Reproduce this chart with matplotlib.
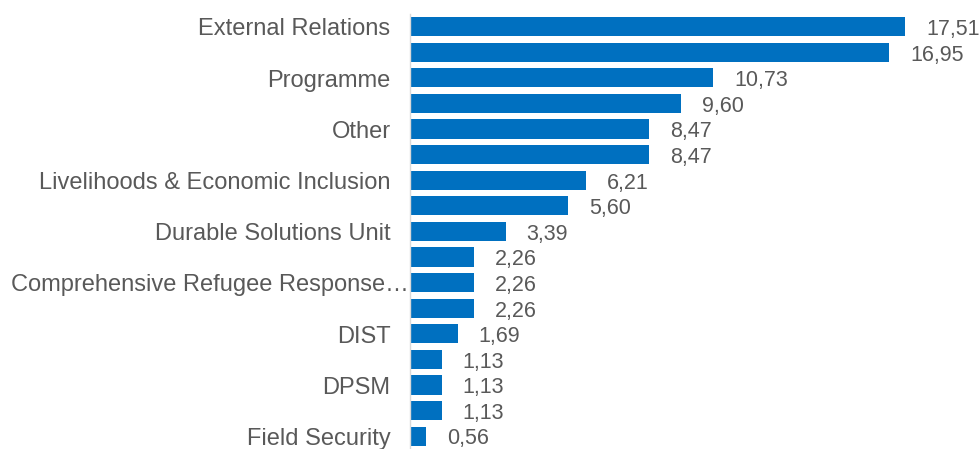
import matplotlib
matplotlib.use('Agg')
import matplotlib.pyplot as plt
from matplotlib.transforms import ScaledTranslation

plt.rcParams['font.family'] = ['Liberation Sans', 'DejaVu Sans']

# categories (only every other one is labelled on the axis)
categories = ['External Relations', '', 'Programme', '', 'Other', '',
              'Livelihoods & Economic Inclusion', '', 'Durable Solutions Unit', '',
              'Comprehensive Refugee Response…', '', 'DIST', '', 'DPSM', '',
              'Field Security']
values = [17.51, 16.95, 10.73, 9.60, 8.47, 8.47, 6.21, 5.60, 3.39,
          2.26, 2.26, 2.26, 1.69, 1.13, 1.13, 1.13, 0.56]
value_labels = ['17,51', '16,95', '10,73', '9,60', '8,47', '8,47', '6,21', '5,60', '3,39',
                '2,26', '2,26', '2,26', '1,69', '1,13', '1,13', '1,13', '0,56']

bar_col = '#0070C0'
txt_col = '#595959'

fig = plt.figure(figsize=(9.8, 4.49), dpi=100)
ax = fig.add_axes([0.4184, 0.0, 0.5816, 0.969])

ypos = list(range(len(values)))
ax.barh(ypos, values, height=0.75, color=bar_col)
ax.set_ylim(len(values) - 0.5, -0.5)
ax.set_xlim(0, 20.16)

for y, v, lab in zip(ypos, values, value_labels):
    ax.annotate(lab, (v, y), xytext=(15, -2), textcoords='offset points',
                ha='left', va='center', fontsize=15.5, color=txt_col,
                annotation_clip=False)

for y, c in zip(ypos, categories):
    if not c:
        continue
    dx = -14 if 'Comprehensive' not in c else -1
    tr = ax.get_yaxis_transform() + ScaledTranslation(dx / 72, -2 / 72, fig.dpi_scale_trans)
    ax.text(0, y, c, transform=tr, ha='right', va='center', fontsize=17, color=txt_col)

ax.set_xticks([])
ax.set_yticks([])
for s in ['top', 'right', 'bottom']:
    ax.spines[s].set_visible(False)
ax.spines['left'].set_color('#D9D9D9')
ax.spines['left'].set_linewidth(1.0)

fig.savefig('out.png', dpi=100)
